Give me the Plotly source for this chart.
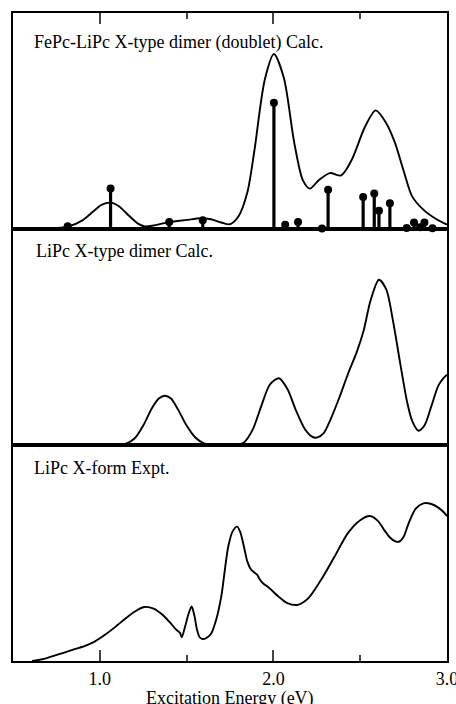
import plotly.graph_objects as go

# ---------------- data ----------------
# Panel 1: FePc-LiPc X-type dimer (doublet) calculated spectrum (arb. units)
energy_fepc = [0.66, 0.75, 0.82, 0.90, 0.96, 1.01, 1.063, 1.11, 1.17, 1.22, 1.26, 1.32,
               1.40, 1.50, 1.58, 1.64, 1.70, 1.75, 1.80, 1.85, 1.89, 1.95, 2.003, 2.06,
               2.12, 2.17, 2.21, 2.26, 2.325, 2.39, 2.45, 2.527, 2.589, 2.65, 2.70, 2.75,
               2.80, 2.87, 2.94, 3.0]
intensity_fepc = [0.0, 0.004, 0.012, 0.04, 0.08, 0.112, 0.122, 0.105, 0.06, 0.025, 0.012, 0.018,
                  0.032, 0.042, 0.05, 0.045, 0.03, 0.022, 0.06, 0.17, 0.36, 0.69, 0.81, 0.70,
                  0.40, 0.225, 0.187, 0.225, 0.259, 0.248, 0.318, 0.472, 0.549, 0.49, 0.40, 0.27,
                  0.15, 0.085, 0.045, 0.02]

# Oscillator strengths (sticks)
stick_energy = [0.815, 1.062, 1.40, 1.593, 2.003, 2.068, 2.142, 2.280, 2.315, 2.517,
                2.581, 2.608, 2.671, 2.768, 2.810, 2.845, 2.870, 2.916]
stick_strength = [0.013, 0.187, 0.032, 0.04, 0.585, 0.02, 0.032, 0.002, 0.182, 0.148,
                  0.164, 0.085, 0.119, 0.005, 0.03, 0.008, 0.03, 0.004]

# Panel 2: LiPc X-type dimer calculated spectrum
energy_lipc_calc = [1.08, 1.10, 1.15, 1.20, 1.25, 1.30, 1.34, 1.375, 1.41, 1.45, 1.50, 1.55,
                    1.60, 1.65, 1.78, 1.83, 1.88, 1.93, 1.98, 2.032, 2.08, 2.13, 2.18, 2.22,
                    2.25, 2.29, 2.33, 2.38, 2.43, 2.48, 2.52, 2.56, 2.608, 2.65, 2.69, 2.73,
                    2.77, 2.80, 2.835, 2.87, 2.91, 2.95, 2.98, 3.0]
intensity_lipc_calc = [0.0, 0.0, 0.006, 0.03, 0.09, 0.17, 0.215, 0.228, 0.215, 0.165, 0.09, 0.035,
                       0.008, 0.0, 0.0, 0.012, 0.07, 0.18, 0.28, 0.309, 0.26, 0.16, 0.075, 0.04,
                       0.034, 0.055, 0.12, 0.22, 0.33, 0.43, 0.53, 0.67, 0.765, 0.72, 0.57, 0.38,
                       0.20, 0.11, 0.066, 0.09, 0.18, 0.275, 0.31, 0.325]

# Panel 3: LiPc X-form experimental spectrum
energy_expt = [0.61, 0.67, 0.72, 0.80, 0.87, 0.93, 0.97, 1.04, 1.10, 1.15, 1.20, 1.255,
               1.31, 1.36, 1.40, 1.44, 1.462, 1.472, 1.49, 1.51, 1.529, 1.545, 1.56, 1.575,
               1.592, 1.61, 1.64, 1.67, 1.70, 1.72, 1.74, 1.765, 1.791, 1.81, 1.83, 1.85,
               1.87, 1.89, 1.906, 1.92, 1.94, 1.96, 1.98, 2.03, 2.08, 2.14, 2.20, 2.27,
               2.35, 2.43, 2.50, 2.556, 2.60, 2.64, 2.67, 2.70, 2.723, 2.75, 2.78, 2.82,
               2.864, 2.91, 2.95, 2.98, 3.0]
intensity_expt = [0.0, 0.008, 0.02, 0.04, 0.058, 0.075, 0.09, 0.127, 0.165, 0.198, 0.228, 0.25,
                  0.243, 0.215, 0.182, 0.145, 0.13, 0.11, 0.155, 0.215, 0.253, 0.21, 0.145, 0.11,
                  0.102, 0.105, 0.125, 0.19, 0.30, 0.42, 0.53, 0.60, 0.622, 0.595, 0.53, 0.46,
                  0.425, 0.41, 0.40, 0.38, 0.36, 0.348, 0.335, 0.298, 0.268, 0.26, 0.29, 0.37,
                  0.48, 0.593, 0.652, 0.671, 0.65, 0.605, 0.573, 0.555, 0.552, 0.575, 0.64, 0.705,
                  0.73, 0.727, 0.71, 0.69, 0.671]

panel_labels = ["FePc-LiPc X-type dimer (doublet) Calc.",
                "LiPc X-type dimer Calc.",
                "LiPc X-form Expt."]
tick_values = [1.0, 2.0, 3.0]
tick_labels = ["1.0", "2.0", "3.0"]
minor_tick_values = [1.5, 2.5]
x_title = "Excitation Energy (eV)"

# ---------------- figure ----------------
FONT = "Liberation Serif"
LW = 1.9
XRANGE = [0.5, 3.0]
TICKC = "#444444"

fig = go.Figure()
line_style = dict(color="black", width=LW, shape="spline", smoothing=0.8)

# Panel 1 (top) -> x3 / y3
fig.add_trace(go.Scatter(x=energy_fepc, y=intensity_fepc, mode="lines", line=line_style,
                         xaxis="x3", yaxis="y3", hoverinfo="skip"))
stem_x, stem_y = [], []
for e, s in zip(stick_energy, stick_strength):
    stem_x += [e, e, None]
    stem_y += [0, s, None]
fig.add_trace(go.Scatter(x=stem_x, y=stem_y, mode="lines",
                         line=dict(color="black", width=3.2),
                         xaxis="x3", yaxis="y3", hoverinfo="skip"))
fig.add_trace(go.Scatter(x=stick_energy, y=stick_strength, mode="markers",
                         marker=dict(color="black", size=8, symbol="circle"),
                         cliponaxis=False, xaxis="x3", yaxis="y3", hoverinfo="skip"))

# Panel 2 (middle) -> x2 / y2
fig.add_trace(go.Scatter(x=energy_lipc_calc, y=intensity_lipc_calc, mode="lines",
                         line=line_style, xaxis="x2", yaxis="y2", hoverinfo="skip"))

# Panel 3 (bottom) -> x / y
fig.add_trace(go.Scatter(x=energy_expt, y=intensity_expt, mode="lines",
                         line=line_style, xaxis="x", yaxis="y", hoverinfo="skip"))

# empty traces that carry the minor-tick overlay axes
fig.add_trace(go.Scatter(x=XRANGE, y=[None, None], mode="lines", xaxis="x4", yaxis="y",
                         hoverinfo="skip"))
fig.add_trace(go.Scatter(x=XRANGE, y=[None, None], mode="lines", xaxis="x5", yaxis="y3",
                         hoverinfo="skip"))

common_x = dict(range=XRANGE, showgrid=False, zeroline=False, automargin=False,
                ticklabeloverflow="allow")
frame_x = dict(showline=True, linecolor="black", linewidth=2, mirror=True)
major_ticks = dict(ticks="inside", ticklen=11, tickwidth=2, tickcolor=TICKC,
                   tickmode="array", tickvals=tick_values)
minor_ticks = dict(ticks="inside", ticklen=6, tickwidth=2, tickcolor=TICKC,
                   tickmode="array", tickvals=minor_tick_values, showticklabels=False)
common_y = dict(range=[0, 1], showgrid=False, zeroline=False, showline=True,
                linecolor="black", linewidth=2, mirror=True,
                showticklabels=False, automargin=False)

fig.update_layout(
    template="none",
    width=456, height=704,
    margin=dict(l=13, r=9, t=13, b=43),
    showlegend=False,
    xaxis=dict(**common_x, **frame_x, **major_ticks, anchor="y", domain=[0, 1], side="bottom",
               ticktext=tick_labels,
               tickfont=dict(family=FONT, size=18, color="black")),
    xaxis4=dict(**common_x, **minor_ticks, anchor="y", overlaying="x", side="bottom",
                showline=False),
    xaxis2=dict(**common_x, **frame_x, anchor="y2", showticklabels=False),
    xaxis3=dict(**common_x, **frame_x, **major_ticks, anchor="y3", side="top",
                showticklabels=False),
    xaxis5=dict(**common_x, **minor_ticks, anchor="y3", overlaying="x3", side="top",
                showline=False),
    yaxis=dict(**common_y, domain=[0, 1/3], anchor="x"),
    yaxis2=dict(**common_y, domain=[1/3, 2/3], anchor="x2"),
    yaxis3=dict(**common_y, domain=[2/3, 1], anchor="x3"),
)

label_pos = [("x3 domain", "y3 domain", 0.0438, 0.922),
             ("x2 domain", "y2 domain", 0.0475, 0.953),
             ("x domain", "y domain", 0.0438, 0.947)]
for text, (xr, yr, xx, yy) in zip(panel_labels, label_pos):
    fig.add_annotation(text=text, xref=xr, yref=yr, x=xx, y=yy,
                       xanchor="left", yanchor="top", showarrow=False,
                       font=dict(family=FONT, size=18, color="black"))

# x-axis title placed just below the tick labels
fig.add_annotation(text=x_title, xref="x domain", yref="paper", x=0.5, y=-0.039,
                   xanchor="center", yanchor="top", showarrow=False,
                   font=dict(family=FONT, size=18, color="black"))

fig.write_html("out.html")
